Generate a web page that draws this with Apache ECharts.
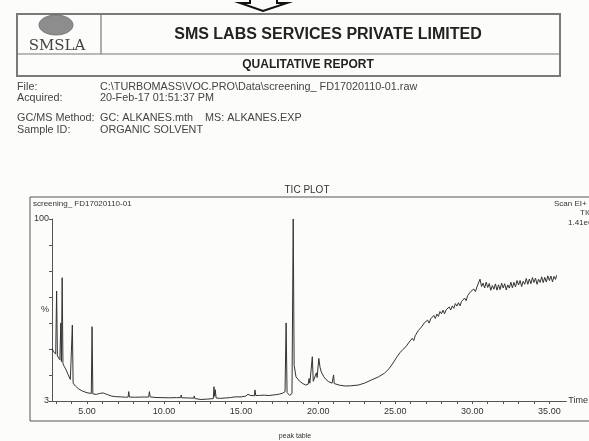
<!DOCTYPE html>
<html>
<head>
<meta charset="utf-8">
<script src="https://cdn.jsdelivr.net/npm/echarts@6/dist/echarts.min.js"></script>
<style>
html, body { margin: 0; padding: 0; background: #fcfcfb; }
#tic { width: 589px; height: 441px; }
</style>
</head>
<body>
<div id="tic"></div>
<script>
// TIC PLOT - screening_ FD17020110-01

// axis labels / ticks
var timeLabels = [5, 10, 15, 20, 25, 30, 35];
var timeTicks = [3, 4, 5, 6, 7, 8, 9, 10, 11, 12, 13, 14, 15, 16, 17, 18, 19, 20,
                 21, 22, 23, 24, 25, 26, 27, 28, 29, 30, 31, 32, 33, 34, 35];
var pctLabels = [3, 51.5, 100];
var pctTicks = [3, 16.9, 30.7, 44.6, 58.4, 72.3, 86.1, 100];

// header text
var infoKeys = ['File:', 'Acquired:', 'GC/MS Method:', 'Sample ID:'];
var infoVals = ['C:\\TURBOMASS\\VOC.PRO\\Data\\screening_ FD17020110-01.raw',
                '20-Feb-17 01:51:37 PM',
                'GC: ALKANES.mth    MS: ALKANES.EXP',
                'ORGANIC SOLVENT'];

// trace: [time min, %]
var earlyTrace = [
  [2.74, 31], [2.82, 29.5], [2.9, 28.5], [2.97, 28], [3.03, 61.6], [3.08, 27], [3.16, 26],
  [3.24, 25], [3.30, 44.6], [3.34, 24], [3.39, 68.7], [3.44, 23], [3.52, 21.5], [3.65, 19.5],
  [3.78, 17], [3.92, 14.5], [4.0, 13.5], [4.05, 43.5], [4.1, 12.5], [4.25, 11], [4.45, 9.5],
  [4.7, 8.3], [5.0, 7.4], [5.28, 7], [5.33, 42.6], [5.38, 6.8], [5.6, 6.5], [5.8, 7.0],
  [5.9, 7.6], [6.05, 7.3], [6.2, 6.8], [6.4, 6.2], [6.6, 5.6], [6.86, 5.3], [7.2, 5.2],
  [7.5, 5.0], [7.67, 5.1], [7.71, 8.0], [7.75, 5.1], [8.1, 5.0], [8.56, 5.1], [9.0, 5.1],
  [9.05, 8.0], [9.1, 5.2], [9.41, 4.9], [9.8, 4.8], [10.3, 4.7], [10.8, 4.8], [11.08, 4.8],
  [11.11, 6.2], [11.15, 4.7], [11.6, 4.6], [11.93, 4.5], [11.96, 5.7], [12.0, 4.3], [12.39, 3.8],
  [12.8, 4.0], [13.2, 4.3], [13.24, 10.6], [13.28, 5.5], [13.32, 9], [13.38, 4.6], [13.66, 4.4],
  [14.0, 4.6], [14.3, 4.8], [14.6, 5.2], [14.65, 5.8], [14.7, 5.0], [15.0, 5.2], [15.3, 5.6],
  [15.45, 6.6], [15.58, 6.0], [15.7, 6.4], [15.86, 5.8], [15.9, 8.9], [15.95, 5.9], [16.2, 6.0],
  [16.5, 6.1], [16.8, 5.9], [17.07, 6.2], [17.3, 6.4], [17.49, 6.7], [17.7, 7.2], [17.85, 8],
  [17.92, 44.6], [17.98, 7.5], [18.15, 6], [18.3, 7], [18.38, 100], [18.44, 22], [18.56, 15.9],
  [18.8, 13.5], [19.0, 12.3], [19.2, 11.5], [19.35, 12], [19.41, 15], [19.46, 12.5], [19.56, 13],
  [19.62, 26.6], [19.68, 13.5], [19.79, 14.2], [19.88, 18], [19.93, 15.5], [20.04, 25.7],
  [20.12, 21], [20.2, 18.5], [20.36, 16], [20.5, 14.5], [20.68, 13.3], [20.9, 12.5], [20.97, 12.3],
  [21.0, 16.9], [21.04, 12.3], [21.11, 12], [21.4, 11.4], [21.75, 11], [22.1, 11.1], [22.6, 11.5],
  [23.0, 12.5], [23.45, 14.2], [23.9, 15.8], [24.3, 17.8], [24.6, 20.2]
];
var lateTrace = [
  [24.9, 23.8], [25.0, 24.1], [25.1, 26.4], [25.2, 26.6], [25.3, 28.7], [25.4, 28.0], [25.5, 30.5],
  [25.6, 29.8], [25.7, 32.0], [25.8, 31.1], [25.9, 34.4], [26.0, 33.9], [26.1, 36.4], [26.2, 35.2],
  [26.3, 37.9], [26.4, 37.7], [26.5, 40.6], [26.6, 39.6], [26.7, 42.4], [26.8, 41.7], [26.9, 44.8],
  [27.0, 44.1], [27.1, 46.1], [27.2, 44.5], [27.3, 46.8], [27.4, 46.2], [27.5, 48.6], [27.6, 47.0],
  [27.7, 49.3], [27.8, 48.1], [27.9, 50.7], [28.0, 49.5], [28.1, 51.4], [28.2, 49.5], [28.3, 51.6],
  [28.4, 50.8], [28.5, 53.1], [28.6, 51.5], [28.7, 53.7], [28.8, 52.4], [28.9, 54.9], [29.0, 53.6],
  [29.1, 55.4], [29.2, 53.7], [29.3, 56.0], [29.4, 55.4], [29.5, 57.9], [29.6, 56.5], [29.7, 59.2],
  [29.8, 58.4], [29.9, 61.4], [30.0, 60.5], [30.1, 62.7], [30.2, 61.3], [30.3, 63.8], [30.4, 63.4],
  [30.5, 67.9], [30.6, 64.0], [30.7, 65.8], [30.8, 63.2], [30.9, 66.3], [31.0, 63.5], [31.1, 65.6],
  [31.2, 62.0], [31.3, 64.5], [31.4, 62.6], [31.5, 65.4], [31.6, 62.1], [31.7, 64.9], [31.8, 62.4],
  [31.9, 65.8], [32.0, 63.2], [32.1, 65.5], [32.2, 62.2], [32.3, 64.9], [32.4, 63.2], [32.5, 66.3],
  [32.6, 63.3], [32.7, 66.2], [32.8, 63.8], [32.9, 67.2], [33.0, 64.8], [33.1, 67.2], [33.2, 64.0],
  [33.3, 66.8], [33.4, 65.2], [33.5, 68.3], [33.6, 65.2], [33.7, 68.0], [33.8, 65.5], [33.9, 68.8],
  [34.0, 66.2], [34.1, 68.5], [34.2, 65.2], [34.3, 67.9], [34.4, 66.2], [34.5, 69.2], [34.6, 66.1],
  [34.7, 68.9], [34.8, 66.4], [34.9, 69.7], [35.0, 67.2], [35.1, 69.6], [35.2, 66.5], [35.3, 69.4],
  [35.4, 67.8], [35.47, 70.0]
];

var ff = '"Liberation Sans", Arial, sans-serif';
var ink = '#333';

var ticChart = echarts.init(document.getElementById('tic'), null, { renderer: 'canvas' });

// header + frame drawn as graphic elements
var gfx = [
  // arrow at top (cut off by the scan)
  { type: 'polyline', shape: { points: [[250, 0], [250, 3], [240, 3], [263, 11], [287, 3], [277, 3], [277, 0]] },
    style: { stroke: '#111', lineWidth: 2, fill: null } },
  // header box
  { type: 'rect', shape: { x: 17, y: 14, width: 543, height: 62 },
    style: { fill: null, stroke: '#7a7a7a', lineWidth: 2 } },
  { type: 'line', shape: { x1: 101, y1: 14, x2: 101, y2: 54 }, style: { stroke: '#777', lineWidth: 1.2 } },
  { type: 'line', shape: { x1: 17, y1: 54, x2: 560, y2: 54 }, style: { stroke: '#777', lineWidth: 1.2 } },
  // logo
  { type: 'ellipse', shape: { cx: 56, cy: 25, rx: 17, ry: 10 },
    style: { fill: '#8d8d8d', stroke: '#666', lineWidth: 0.8 } },
  { type: 'text', style: { text: 'SMSLA', x: 57, y: 46, align: 'center', verticalAlign: 'middle',
    font: '15px "DejaVu Serif", serif', fill: '#444' } },
  { type: 'text', style: { text: 'SMS LABS SERVICES PRIVATE LIMITED', x: 328, y: 35, align: 'center',
    verticalAlign: 'middle', font: 'bold 16px ' + ff, fill: '#222' } },
  { type: 'text', style: { text: 'QUALITATIVE REPORT', x: 308, y: 65, align: 'center',
    verticalAlign: 'middle', font: 'bold 12px ' + ff, fill: '#222' } },
  // plot frame
  { type: 'rect', shape: { x: 30, y: 197, width: 580, height: 224 },
    style: { fill: null, stroke: '#555', lineWidth: 1 } },
  { type: 'text', style: { text: 'TIC PLOT', x: 307, y: 190, align: 'center', verticalAlign: 'middle',
    font: '10px ' + ff, fill: ink } },
  { type: 'text', style: { text: 'screening_ FD17020110-01', x: 33, y: 204, verticalAlign: 'middle',
    font: '8px ' + ff, fill: ink } },
  { type: 'text', style: { text: 'Scan EI+', x: 554, y: 204, verticalAlign: 'middle', font: '8px ' + ff, fill: ink } },
  { type: 'text', style: { text: 'TIC', x: 580, y: 213, verticalAlign: 'middle', font: '8px ' + ff, fill: ink } },
  { type: 'text', style: { text: '1.41e6', x: 568, y: 223, verticalAlign: 'middle', font: '8px ' + ff, fill: ink } },
  { type: 'text', style: { text: 'peak table', x: 295, y: 436, align: 'center', verticalAlign: 'middle',
    font: '7px ' + ff, fill: ink } }
];
var infoY = [87, 98, 118, 130];
infoKeys.forEach(function (k, i) {
  gfx.push({ type: 'text', style: { text: k, x: 17, y: infoY[i], verticalAlign: 'middle',
    font: '10.8px ' + ff, fill: '#444' } });
  gfx.push({ type: 'text', style: { text: infoVals[i], x: 100, y: infoY[i], verticalAlign: 'middle',
    font: '10.8px ' + ff, fill: '#444' } });
});

var option = {
  animation: false,
  backgroundColor: '#fcfcfb',
  grid: { left: 52, right: 14, top: 219, bottom: 40 },
  xAxis: {
    type: 'value', min: 2.73, max: 36.1,
    name: 'Time', nameLocation: 'end', nameGap: 2,
    nameTextStyle: { fontFamily: ff, fontSize: 9, color: ink },
    axisLine: { lineStyle: { color: '#555', width: 1 } },
    axisTick: { show: true, length: 3, customValues: timeTicks, lineStyle: { color: '#555' } },
    axisLabel: { customValues: timeLabels, margin: 6, fontFamily: ff, fontSize: 9, color: ink,
      formatter: function (v) { return v.toFixed(2); } },
    splitLine: { show: false }
  },
  yAxis: {
    type: 'value', min: 3, max: 100,
    axisLine: { show: true, lineStyle: { color: '#555', width: 1 } },
    axisTick: { show: true, length: 3, customValues: pctTicks, lineStyle: { color: '#555' } },
    axisLabel: { customValues: pctLabels, margin: 3, fontFamily: ff, fontSize: 9, color: ink,
      formatter: function (v) { return v === 3 ? '3' : (v === 100 ? '100' : '%'); } },
    splitLine: { show: false }
  },
  series: [{
    type: 'line', showSymbol: false, symbol: 'none',
    data: earlyTrace.concat(lateTrace),
    lineStyle: { color: '#333', width: 1 }
  }],
  graphic: gfx
};

ticChart.setOption(option);
</script>
</body>
</html>
